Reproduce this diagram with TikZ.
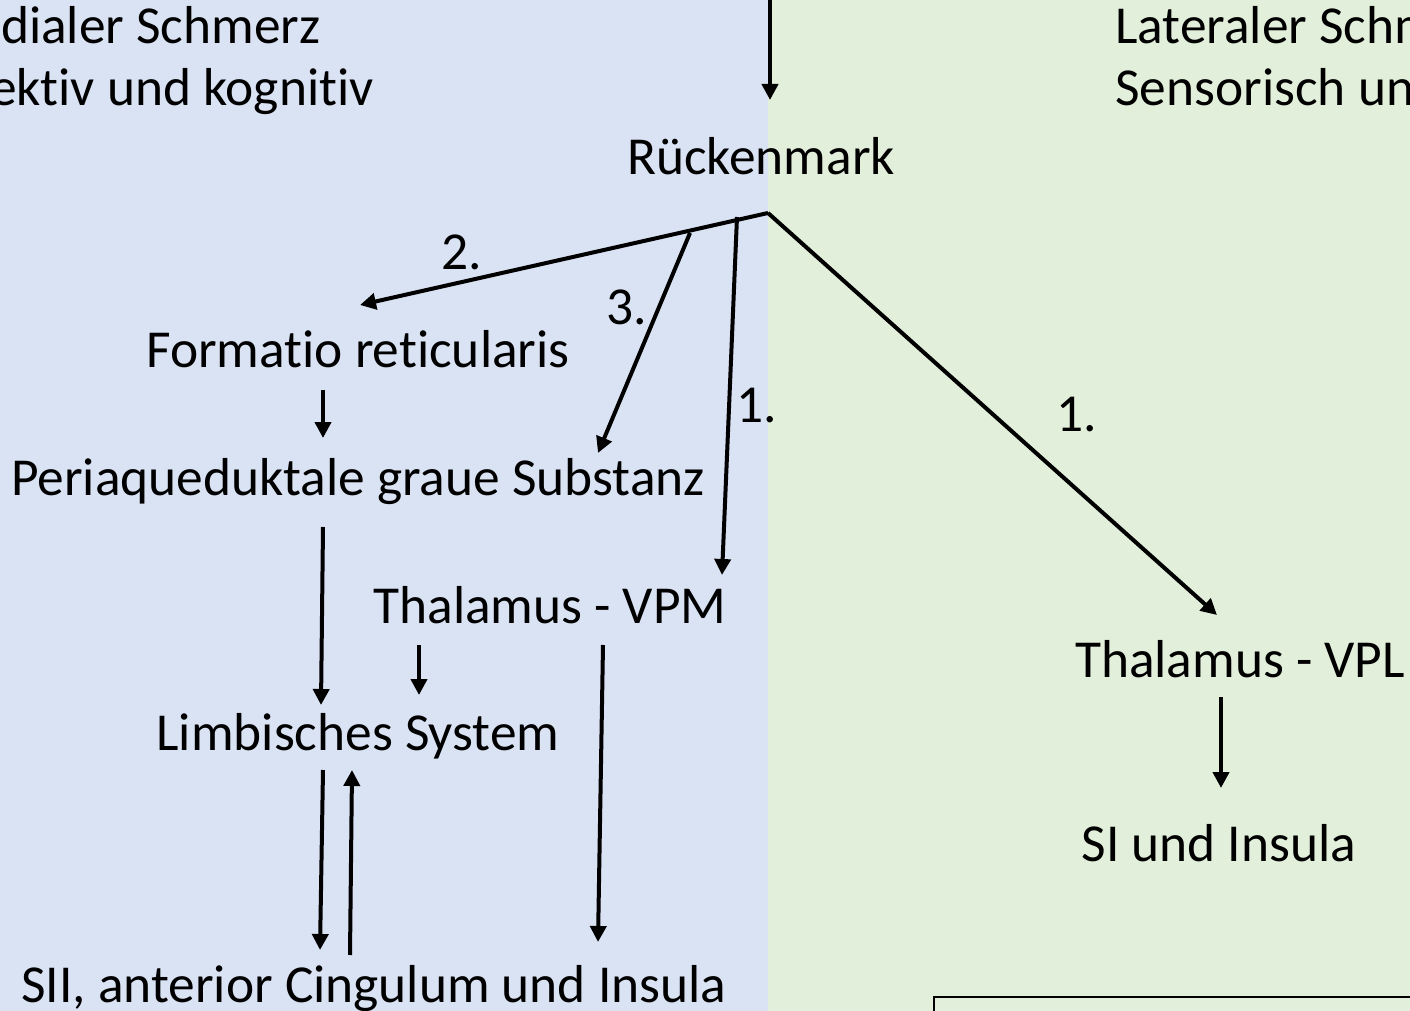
\documentclass[tikz,border=0pt]{standalone}
\usepackage{fontspec}
\setmainfont{Carlito}[Ligatures={NoCommon}]
\usetikzlibrary{arrows.meta}
\definecolor{bgblue}{HTML}{DAE3F3}
\definecolor{bggreen}{HTML}{E2EFDA}
\begin{document}
\begin{tikzpicture}[x=0.5pt,y=-0.5pt,
  lbl/.style={inner sep=0pt,anchor=base,font=\fontsize{26.7}{32}\selectfont},
  arr/.style={line width=2pt,-{Triangle[length=8pt,width=8pt]}}]
\useasboundingbox (0,0) rectangle (1410,1011);
\clip (0,0) rectangle (1410,1011);
\fill[bgblue] (0,0) rectangle (768,1011);
\fill[bggreen] (768,0) rectangle (1410,1011);
% texts
\node[lbl,anchor=base east] (med1) at (321,44) {Medialer Schmerz};
\node[lbl,anchor=base east] (med2) at (374,106) {Affektiv und kognitiv};
\node[lbl,anchor=base west] (lat1) at (1115,44) {Lateraler Schmerz};
\node[lbl,anchor=base west] (lat2) at (1115,106) {Sensorisch und diskriminativ};
\node[lbl] (rm) at (761,175) {Rückenmark};
\node[lbl] (fr) at (358,367) {Formatio reticularis};
\node[lbl] (pag) at (358,495) {Periaqueduktale graue Substanz};
\node[lbl] (vpm) at (550,623) {Thalamus - VPM};
\node[lbl] (ls) at (358,750) {Limbisches System};
\node[lbl] (sii) at (374,1002) {SII, anterior Cingulum und Insula};
\node[lbl] (vpl) at (1240,677) {Thalamus - VPL};
\node[lbl] (si) at (1219,861) {SI und Insula};
% number labels
\node[lbl] (n2) at (462,270) {2.};
\node[lbl] (n3) at (627,324) {3.};
\node[lbl] (n1a) at (757,422) {1.};
\node[lbl] (n1b) at (1077,431) {1.};
% coordinates
\coordinate (top) at (770,0);
\coordinate (topend) at (770,100);
\coordinate (j) at (768,213);
\coordinate (frend) at (360,305);
\coordinate (b3) at (690,233);
\coordinate (pagend) at (598,453);
\coordinate (b1) at (737,217);
\coordinate (vpmend) at (722,575);
\coordinate (vplend) at (1217,615);
\coordinate (fr1) at (323,390);
\coordinate (fr2) at (323,438);
\coordinate (pag1) at (323,527);
\coordinate (pag2) at (321,705);
\coordinate (vpm1) at (419,645);
\coordinate (vpm2) at (419,695);
\coordinate (ls1) at (323,770);
\coordinate (ls2) at (320,950);
\coordinate (ls3) at (350,955);
\coordinate (ls4) at (352,770);
\coordinate (vpm3) at (603,645);
\coordinate (vpm4) at (598,942);
\coordinate (vpl1) at (1221,697);
\coordinate (vpl2) at (1221,788);
% connectors
\draw[arr] (top) -- (topend);
\draw[arr] (j) -- (frend);
\draw[arr] (b3) -- (pagend);
\draw[arr] (b1) -- (vpmend);
\draw[arr] (j) -- (vplend);
\draw[arr] (fr1) -- (fr2);
\draw[arr] (pag1) -- (pag2);
\draw[arr] (vpm1) -- (vpm2);
\draw[arr] (ls1) -- (ls2);
\draw[arr] (ls3) -- (ls4);
\draw[arr] (vpm3) -- (vpm4);
\draw[arr] (vpl1) -- (vpl2);
% box bottom right
\draw[line width=1.3pt] (934,997) rectangle (1430,1040);
\end{tikzpicture}
\end{document}
